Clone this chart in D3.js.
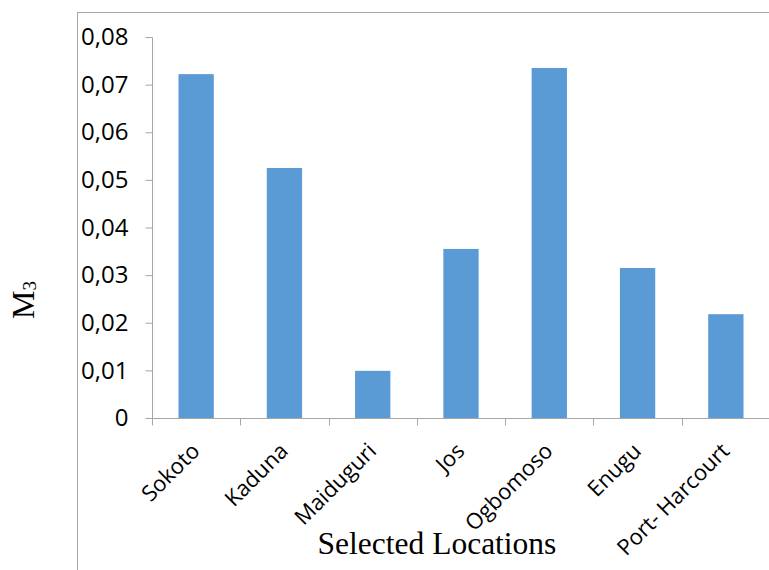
<!DOCTYPE html>
<html><head><meta charset="utf-8">
<script src="https://cdn.jsdelivr.net/npm/d3@7"></script>
<style>body{margin:0;background:#fff}svg{display:block}</style>
</head><body>
<script>
const categories = ["Sokoto","Kaduna","Maiduguri","Jos","Ogbomoso","Enugu","Port- Harcourt"];
const values = [0.0722, 0.0525, 0.0099, 0.0355, 0.0735, 0.0315, 0.0218];
const yTicks = [0,0.01,0.02,0.03,0.04,0.05,0.06,0.07,0.08];

const W=769,H=570;
const svg=d3.select("body").append("svg").attr("width",W).attr("height",H);
const grey="#a6a6a6";
// frame
svg.append("line").attr("x1",77.5).attr("x2",77.5).attr("y1",12).attr("y2",H).attr("stroke",grey);
svg.append("line").attr("x1",77).attr("x2",W).attr("y1",12.5).attr("y2",12.5).attr("stroke",grey);

const x=d3.scaleBand().domain(categories).range([152,770]).padding(0);
const y=d3.scaleLinear().domain([0,0.08]).range([418,37]);

svg.append("g").selectAll("rect").data(values).join("rect")
  .attr("x",(d,i)=>x(categories[i])+x.bandwidth()*0.3)
  .attr("width",x.bandwidth()*0.4)
  .attr("y",d=>y(d)).attr("height",d=>y(0)-y(d))
  .attr("fill","#5b9bd5");

// y axis
const ya=svg.append("g").attr("transform","translate(152.5,0)")
  .call(d3.axisLeft(y).tickValues(yTicks).tickSize(7).tickPadding(17)
  .tickFormat(d=>d===0?"0":d3.format(".2f")(d).replace(".",",")));
ya.select(".domain").attr("stroke",grey).attr("d","M0,37.5V418.5");
ya.selectAll(".tick line").attr("stroke",grey);
ya.selectAll("text").attr("font-family","Open Sans").attr("font-size",24).attr("fill","#000");

// x axis
const xa=svg.append("g").attr("transform","translate(0,418.5)");
xa.append("line").attr("x1",152).attr("x2",W).attr("stroke",grey);
const edges=categories.map(c=>x(c));
xa.selectAll(".tk").data(edges).join("line").attr("class","tk")
  .attr("x1",d=>Math.round(d)+0.5).attr("x2",d=>Math.round(d)+0.5).attr("y1",0).attr("y2",7).attr("stroke",grey);
xa.selectAll("text").data(categories).join("text")
  .attr("transform",d=>`translate(${x(d)+x.bandwidth()/2-6},${23}) rotate(-45)`)
  .attr("text-anchor","end").attr("dy","0.7em")
  .attr("font-family","Open Sans").attr("font-size",22).attr("fill","#000")
  .text(d=>d);

// axis titles
svg.append("text").attr("x",437).attr("y",554).attr("text-anchor","middle")
  .attr("font-family","Liberation Serif").attr("font-size",31.5).text("Selected Locations");
const yt=svg.append("text").attr("transform","translate(34,300) rotate(-90)").attr("text-anchor","middle")
  .attr("font-family","Liberation Serif").attr("font-size",32);
yt.append("tspan").text("M");
yt.append("tspan").attr("font-size",19).attr("dy",1.5).text("3");
</script>
</body></html>
